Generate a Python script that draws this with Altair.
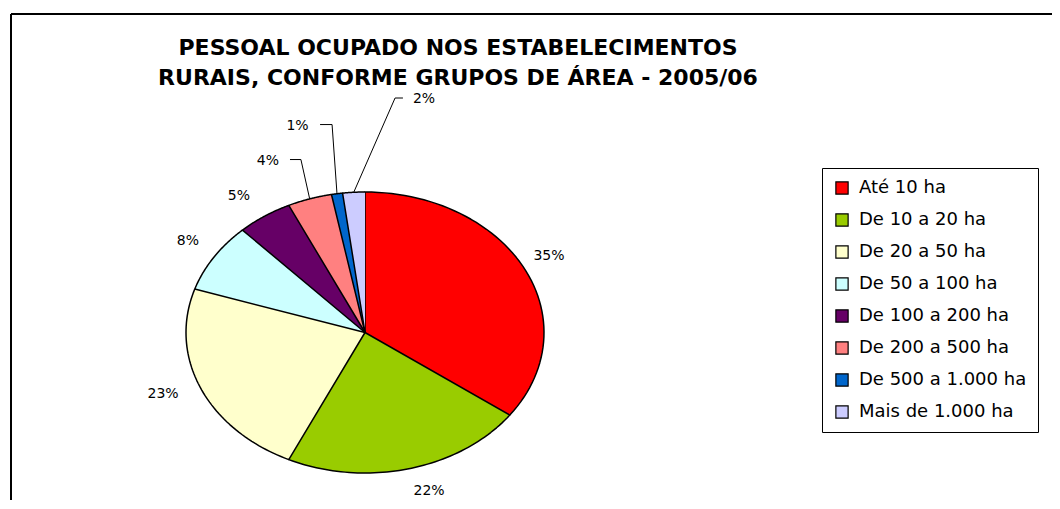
import altair as alt
import pandas as pd
import numpy as np

# ---- data ----
CATEGORIES = ["Até 10 ha", "De 10 a 20 ha", "De 20 a 50 ha", "De 50 a 100 ha",
              "De 100 a 200 ha", "De 200 a 500 ha", "De 500 a 1.000 ha", "Mais de 1.000 ha"]
SHARES = [35, 22, 23, 8, 5, 4, 1, 2]
LABELS = ["35%", "22%", "23%", "8%", "5%", "4%", "1%", "2%"]
COLORS = ["#FF0000", "#99CC00", "#FFFFCC", "#CCFFFF", "#660066", "#FF8080", "#0066CC", "#CCCCFF"]
TITLE_LINES = ["PESSOAL OCUPADO NOS ESTABELECIMENTOS",
               "RURAIS, CONFORME GRUPOS DE ÁREA - 2005/06"]

# ---- layout (label anchors, in units of the pie radius) ----
LABEL_U = [1.028, 0.358, -1.128, -0.989, -0.704, -0.542, -0.377, 0.330]
LABEL_V = [0.555, -1.121, -0.434, 0.658, 0.979, 1.231, 1.480, 1.669]
ELBOW_U = [np.nan, np.nan, np.nan, np.nan, np.nan, -0.358, -0.184, 0.168]
HOOK_U = [np.nan, np.nan, np.nan, np.nan, np.nan, -0.419, -0.251, 0.212]

W, H = 1044, 492
FONT = "DejaVu Sans"

df = pd.DataFrame({
    "idx": list(range(len(CATEGORIES))),
    "category": CATEGORIES,
    "share": SHARES,
    "label": LABELS,
    "label_u": LABEL_U,
    "label_v": LABEL_V,
    "elbow_u": ELBOW_U,
    "elbow_v": LABEL_V,
    "hook_u": HOOK_U,
})

XS = alt.Scale(domain=[-1, 1], range=[178, 536], nice=False, zero=False)
YS = alt.Scale(domain=[-1, 1], range=[465, 184], nice=False, zero=False)

base = (
    alt.Chart(df)
    .transform_window(cum_end="sum(share)", sort=[alt.SortField("idx")], frame=[None, 0])
    .transform_joinaggregate(total="sum(share)")
    .transform_calculate(
        cum_start="datum.cum_end - datum.share",
        mid="2*PI*(datum.cum_end - datum.share/2)/datum.total",
    )
)

slices = (
    base.transform_calculate(steps="sequence(0, 61)")
    .transform_flatten(["steps"], as_=["step"])
    .transform_calculate(ang="2*PI*(datum.cum_start + datum.share*(datum.step-1)/59)/datum.total")
    .transform_calculate(
        u="datum.step == 0 ? 0 : sin(datum.ang)",
        v="datum.step == 0 ? 0 : cos(datum.ang)",
    )
    .mark_line(stroke="black", strokeWidth=1.5, strokeJoin="round")
    .encode(
        x=alt.X("u:Q", scale=XS, axis=None),
        y=alt.Y("v:Q", scale=YS, axis=None),
        order=alt.Order("step:Q"),
        detail="category:N",
        fill=alt.Fill(
            "category:N",
            sort=CATEGORIES,
            scale=alt.Scale(domain=CATEGORIES, range=COLORS),
            legend=alt.Legend(
                title=None,
                orient="none",
                legendX=814,
                legendY=160,
                symbolType="square",
                symbolSize=150,
                symbolStrokeColor="black",
                symbolStrokeWidth=1.2,
                labelFont=FONT,
                labelFontSize=18,
                labelColor="black",
                labelOffset=8,
                labelLimit=400,
                rowPadding=14,
                padding=11,
                strokeColor="black",
                fillColor="white",
            ),
        ),
    )
)

leaders = (
    base.transform_filter("isValid(datum.hook_u)")
    .transform_calculate(steps="[0, 1, 2]")
    .transform_flatten(["steps"], as_=["step"])
    .transform_calculate(
        u="datum.step == 0 ? datum.hook_u : (datum.step == 1 ? datum.elbow_u : sin(datum.mid))",
        v="datum.step == 2 ? cos(datum.mid) : datum.elbow_v",
    )
    .mark_line(color="black", strokeWidth=1)
    .encode(
        x=alt.X("u:Q", scale=XS, axis=None),
        y=alt.Y("v:Q", scale=YS, axis=None),
        order=alt.Order("step:Q"),
        detail="category:N",
    )
)

labels = (
    alt.Chart(df)
    .mark_text(font=FONT, fontSize=14, color="black", align="center", baseline="middle", dy=1)
    .encode(
        x=alt.X("label_u:Q", scale=XS, axis=None),
        y=alt.Y("label_v:Q", scale=YS, axis=None),
        text="label:N",
    )
)

frame_df = pd.DataFrame({"k": [0]})
frame_top = alt.Chart(frame_df).mark_rule(color="black", strokeWidth=2).encode(
    x=alt.value(3), x2=alt.value(W), y=alt.value(6)
)
frame_left = alt.Chart(frame_df).mark_rule(color="black", strokeWidth=2).encode(
    x=alt.value(3), y=alt.value(6), y2=alt.value(H)
)

chart = (
    alt.layer(frame_top, frame_left, slices, leaders, labels)
    .properties(
        width=W,
        height=H,
        padding=0,
        autosize=alt.AutoSizeParams(type="none"),
        background="white",
        title=alt.TitleParams(
            text=TITLE_LINES,
            font=FONT,
            fontSize=22,
            fontWeight="bold",
            color="black",
            anchor="middle",
            frame="group",
            baseline="top",
            offset=0,
            dx=-72,
            dy=82,
            lineHeight=30,
        ),
    )
    .configure_view(stroke="transparent")
)

chart.save("out.html", embed_options={"renderer": "svg", "actions": False})
